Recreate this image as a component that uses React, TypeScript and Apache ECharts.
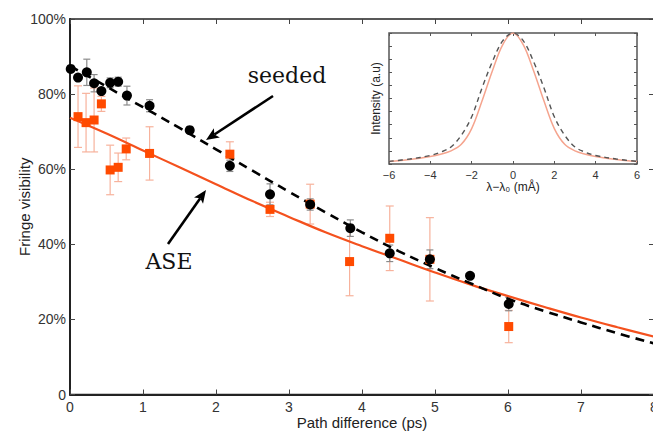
import React, { useEffect, useRef } from "react";
import * as echarts from "echarts";

// ---- Main chart data (Path difference in ps, Fringe visibility in %) ----
const seededX = [0.01, 0.11, 0.23, 0.33, 0.43, 0.55, 0.66, 0.78, 1.09, 1.64, 2.19, 2.74, 3.29, 3.84, 4.38, 4.93, 5.48, 6.01];
const seededY = [86.7, 84.4, 85.8, 82.9, 80.8, 83.0, 83.3, 79.6, 76.9, 70.4, 60.9, 53.3, 50.6, 44.3, 37.6, 36.0, 31.6, 24.1];
const seededErr = [0, 0, 3.5, 2.3, 0, 1.3, 1.2, 2.5, 1.6, 0, 1.5, 2.8, 1.5, 2.2, 2.2, 2.5, 0, 1.8];

const aseX = [0.11, 0.22, 0.33, 0.43, 0.55, 0.66, 0.77, 1.09, 2.19, 2.74, 3.29, 3.83, 4.38, 4.93, 6.01];
const aseY = [74.0, 72.4, 73.1, 77.4, 59.8, 60.5, 65.4, 64.2, 64.0, 49.3, 50.7, 35.4, 41.6, 36.0, 18.1];
const aseErr = [8.2, 7.8, 8.5, 2.0, 6.6, 3.8, 2.9, 7.1, 3.3, 1.9, 5.3, 9.1, 8.6, 11.1, 4.3];

// fitted curves
const fitX = [0, 0.5, 1, 1.5, 2, 2.5, 3, 3.5, 4, 4.5, 5, 5.5, 6, 6.5, 7, 7.5, 8];
const seededFit = [87.5, 82, 76.5, 71, 65.3, 59.6, 54, 48.5, 43.2, 38.2, 33.7, 29.5, 25.5, 22.2, 19.2, 16.3, 13.6];
const aseFit = [73.7, 69.5, 65, 60.5, 56, 51.5, 47.3, 43.2, 39.5, 36, 32.5, 29.2, 26.2, 23.3, 20.5, 17.9, 15.4];

// ---- Inset data (spectral profiles) ----
const insetX = [-6, -5, -4, -3.5, -3, -2.5, -2, -1.5, -1, -0.5, 0, 0.5, 1, 1.5, 2, 2.5, 3, 3.5, 4, 5, 6];
const insetSeeded = [0.02, 0.038, 0.065, 0.09, 0.13, 0.22, 0.36, 0.58, 0.78, 0.94, 1.0, 0.94, 0.78, 0.58, 0.36, 0.22, 0.13, 0.09, 0.065, 0.038, 0.02];
const insetAse = [0.02, 0.035, 0.058, 0.075, 0.1, 0.15, 0.27, 0.48, 0.71, 0.91, 1.0, 0.91, 0.71, 0.48, 0.27, 0.15, 0.1, 0.075, 0.058, 0.035, 0.02];

const mainTicksY = [0, 20, 40, 60, 80, 100];

const ORANGE_LINE = "#F4511E";
const ORANGE_MARK = "#FF4A00";
const ORANGE_ERR = "#F7B29C";
const GREY_ERR = "#8a8a8a";
const SANS = "Liberation Sans, Arial, sans-serif";
const SERIF = "DejaVu Serif, serif";

function errorBars(xs: number[], ys: number[], errs: number[], color: string, cap: number, z: number) {
  const data: number[][] = [];
  xs.forEach((x, i) => {
    if (errs[i] > 0) data.push([x, ys[i] - errs[i], ys[i] + errs[i]]);
  });
  return {
    type: "custom",
    xAxisIndex: 0,
    yAxisIndex: 0,
    z,
    silent: true,
    encode: { x: 0, y: [1, 2] },
    data,
    renderItem: (_p: any, api: any) => {
      const x = api.value(0);
      const lo = api.coord([x, api.value(1)]);
      const hi = api.coord([x, api.value(2)]);
      const style = { stroke: color, lineWidth: 1.2, fill: "none" };
      return {
        type: "group",
        children: [
          { type: "line", shape: { x1: lo[0], y1: lo[1], x2: hi[0], y2: hi[1] }, style },
          { type: "line", shape: { x1: lo[0] - cap, y1: lo[1], x2: lo[0] + cap, y2: lo[1] }, style },
          { type: "line", shape: { x1: hi[0] - cap, y1: hi[1], x2: hi[0] + cap, y2: hi[1] }, style },
        ],
      };
    },
  };
}

function arrow(x1: number, y1: number, x2: number, y2: number) {
  const dx = x2 - x1, dy = y2 - y1;
  const len = Math.sqrt(dx * dx + dy * dy);
  const ux = dx / len, uy = dy / len;
  const hl = 13, hw = 5.5;
  const bx = x2 - hl * ux, by = y2 - hl * uy;
  const nx = -uy, ny = ux;
  return [
    { type: "line", shape: { x1, y1, x2: bx + 3 * ux, y2: by + 3 * uy }, style: { stroke: "#000", lineWidth: 2.6 }, z: 20 },
    {
      type: "polygon",
      shape: { points: [[x2, y2], [bx + hw * nx, by + hw * ny], [bx + 3 * ux, by + 3 * uy], [bx - hw * nx, by - hw * ny]] },
      style: { fill: "#000" },
      z: 20,
    },
  ];
}

export default function App() {
  const ref = useRef<HTMLDivElement>(null);
  useEffect(() => {
    document.body.style.margin = "0";
    if (!ref.current) return;
    const chart = echarts.init(ref.current, undefined, { renderer: "svg" });

    const mainLeft = 70, mainTop = 19, mainW = 584, mainH = 375.5;
    const inLeft = 389, inTop = 33, inW = 248, inH = 131;

    const tickStyle = { show: true, inside: true, length: 5, lineStyle: { color: "#444", width: 1 } };
    const inTick = { show: true, inside: true, length: 3, lineStyle: { color: "#555", width: 1 } };
    const noLine = { show: false, onZero: false };

    chart.setOption({
      animation: false,
      backgroundColor: "#fff",
      grid: [
        { left: mainLeft, top: mainTop, width: mainW, height: mainH, outerBoundsMode: "none", containLabel: false, show: true, borderColor: "#222", borderWidth: 1.5, backgroundColor: "transparent", z: 0 },
        { left: inLeft, top: inTop, width: inW, height: inH, outerBoundsMode: "none", containLabel: false, show: true, borderColor: "#555", borderWidth: 1.5, backgroundColor: "#fff", z: 10 },
      ],
      xAxis: [
        {
          gridIndex: 0, type: "value", min: 0, max: 8, interval: 1,
          name: "Path difference (ps)", nameLocation: "middle", nameGap: 20, nameMoveOverlap: false,
          nameTextStyle: { fontFamily: SANS, fontSize: 15, color: "#222", verticalAlign: "top", lineHeight: 16 },
          axisLine: { show: true, onZero: false, lineStyle: { color: "#222", width: 2 } },
          axisTick: tickStyle,
          axisLabel: { fontFamily: SANS, fontSize: 14, color: "#333", margin: 5 },
          splitLine: { show: false },
        },
        {
          gridIndex: 0, type: "value", min: 0, max: 8, interval: 1, position: "top",
          axisLine: noLine, axisTick: tickStyle, axisLabel: { show: false }, splitLine: { show: false },
        },
        {
          gridIndex: 1, type: "value", min: -6, max: 6, interval: 2,
          name: "λ−λ₀ (mÅ)", nameLocation: "middle", nameGap: 17, nameMoveOverlap: false,
          nameTextStyle: { fontFamily: SANS, fontSize: 12, color: "#222", verticalAlign: "top" },
          axisLine: noLine, axisTick: inTick,
          axisLabel: { fontFamily: SANS, fontSize: 11, color: "#333", margin: 5, formatter: (v: number) => String(v).replace("-", "−") },
          splitLine: { show: false }, z: 11,
        },
        {
          gridIndex: 1, type: "value", min: -6, max: 6, interval: 2, position: "top",
          axisLine: noLine, axisTick: inTick, axisLabel: { show: false }, splitLine: { show: false }, z: 11,
        },
      ],
      yAxis: [
        {
          gridIndex: 0, type: "value", min: mainTicksY[0], max: mainTicksY[mainTicksY.length - 1], interval: 20,
          name: "Fringe visibility", nameLocation: "middle", nameGap: 46, nameMoveOverlap: false,
          nameTextStyle: { fontFamily: SANS, fontSize: 15, color: "#222", verticalAlign: "middle" },
          axisLine: { show: true, onZero: false, lineStyle: { color: "#222", width: 2 } },
          axisTick: tickStyle,
          axisLabel: { fontFamily: SANS, fontSize: 14, color: "#333", margin: 4, formatter: (v: number) => (v === 0 ? "0" : v + "%") },
          splitLine: { show: false },
        },
        {
          gridIndex: 0, type: "value", min: 0, max: 100, interval: 20, position: "right",
          axisLine: noLine, axisTick: tickStyle, axisLabel: { show: false }, splitLine: { show: false },
        },
        {
          gridIndex: 1, type: "value", min: 0, max: 1, interval: 0.1,
          name: "Intensity (a.u)", nameLocation: "middle", nameGap: 7, nameMoveOverlap: false,
          nameTextStyle: { fontFamily: SANS, fontSize: 12, color: "#222" },
          axisLine: noLine, axisTick: inTick, axisLabel: { show: false }, splitLine: { show: false }, z: 11,
        },
        {
          gridIndex: 1, type: "value", min: 0, max: 1, interval: 0.1, position: "right",
          axisLine: noLine, axisTick: inTick, axisLabel: { show: false }, splitLine: { show: false }, z: 11,
        },
      ],
      series: [
        errorBars(aseX, aseY, aseErr, ORANGE_ERR, 4, 2),
        errorBars(seededX, seededY, seededErr, GREY_ERR, 3.5, 3),
        {
          name: "ASE fit", type: "line", xAxisIndex: 0, yAxisIndex: 0, smooth: 0.4, showSymbol: false, z: 4,
          lineStyle: { color: ORANGE_LINE, width: 2.2 },
          data: fitX.map((x, i) => [x, aseFit[i]]),
        },
        {
          name: "seeded fit", type: "line", xAxisIndex: 0, yAxisIndex: 0, smooth: 0.4, showSymbol: false, z: 4,
          lineStyle: { color: "#000", width: 2.6, type: [9, 6] },
          data: fitX.map((x, i) => [x, seededFit[i]]),
        },
        {
          name: "ASE", type: "scatter", xAxisIndex: 0, yAxisIndex: 0, symbol: "rect", symbolSize: 9, z: 5,
          itemStyle: { color: ORANGE_MARK, opacity: 1 },
          data: aseX.map((x, i) => [x, aseY[i]]),
        },
        {
          name: "seeded", type: "scatter", xAxisIndex: 0, yAxisIndex: 0, symbol: "circle", symbolSize: 10, z: 6,
          itemStyle: { color: "#000", opacity: 1 },
          data: seededX.map((x, i) => [x, seededY[i]]),
        },
        {
          name: "inset ASE", type: "line", xAxisIndex: 2, yAxisIndex: 2, smooth: 0.35, showSymbol: false, z: 12,
          lineStyle: { color: "#F5A48E", width: 1.5 },
          data: insetX.map((x, i) => [x, insetAse[i]]),
        },
        {
          name: "inset seeded", type: "line", xAxisIndex: 2, yAxisIndex: 2, smooth: 0.35, showSymbol: false, z: 12,
          lineStyle: { color: "#555", width: 1.4, type: [5, 4] },
          data: insetX.map((x, i) => [x, insetSeeded[i]]),
        },
      ],
      graphic: [
        {
          type: "text", x: 287, y: 75, z: 20,
          style: { text: "seeded", fontFamily: SERIF, fontSize: 22, fill: "#111", textAlign: "center", textVerticalAlign: "middle" },
        },
        {
          type: "text", x: 169, y: 261, z: 20,
          style: { text: "ASE", fontFamily: SERIF, fontSize: 22, fill: "#111", textAlign: "center", textVerticalAlign: "middle" },
        },
        ...arrow(273, 96, 206, 140),
        ...arrow(168, 244, 206, 190),
      ],
    });
    return () => chart.dispose();
  }, []);
  return <div ref={ref} style={{ width: 653, height: 432 }} />;
}
